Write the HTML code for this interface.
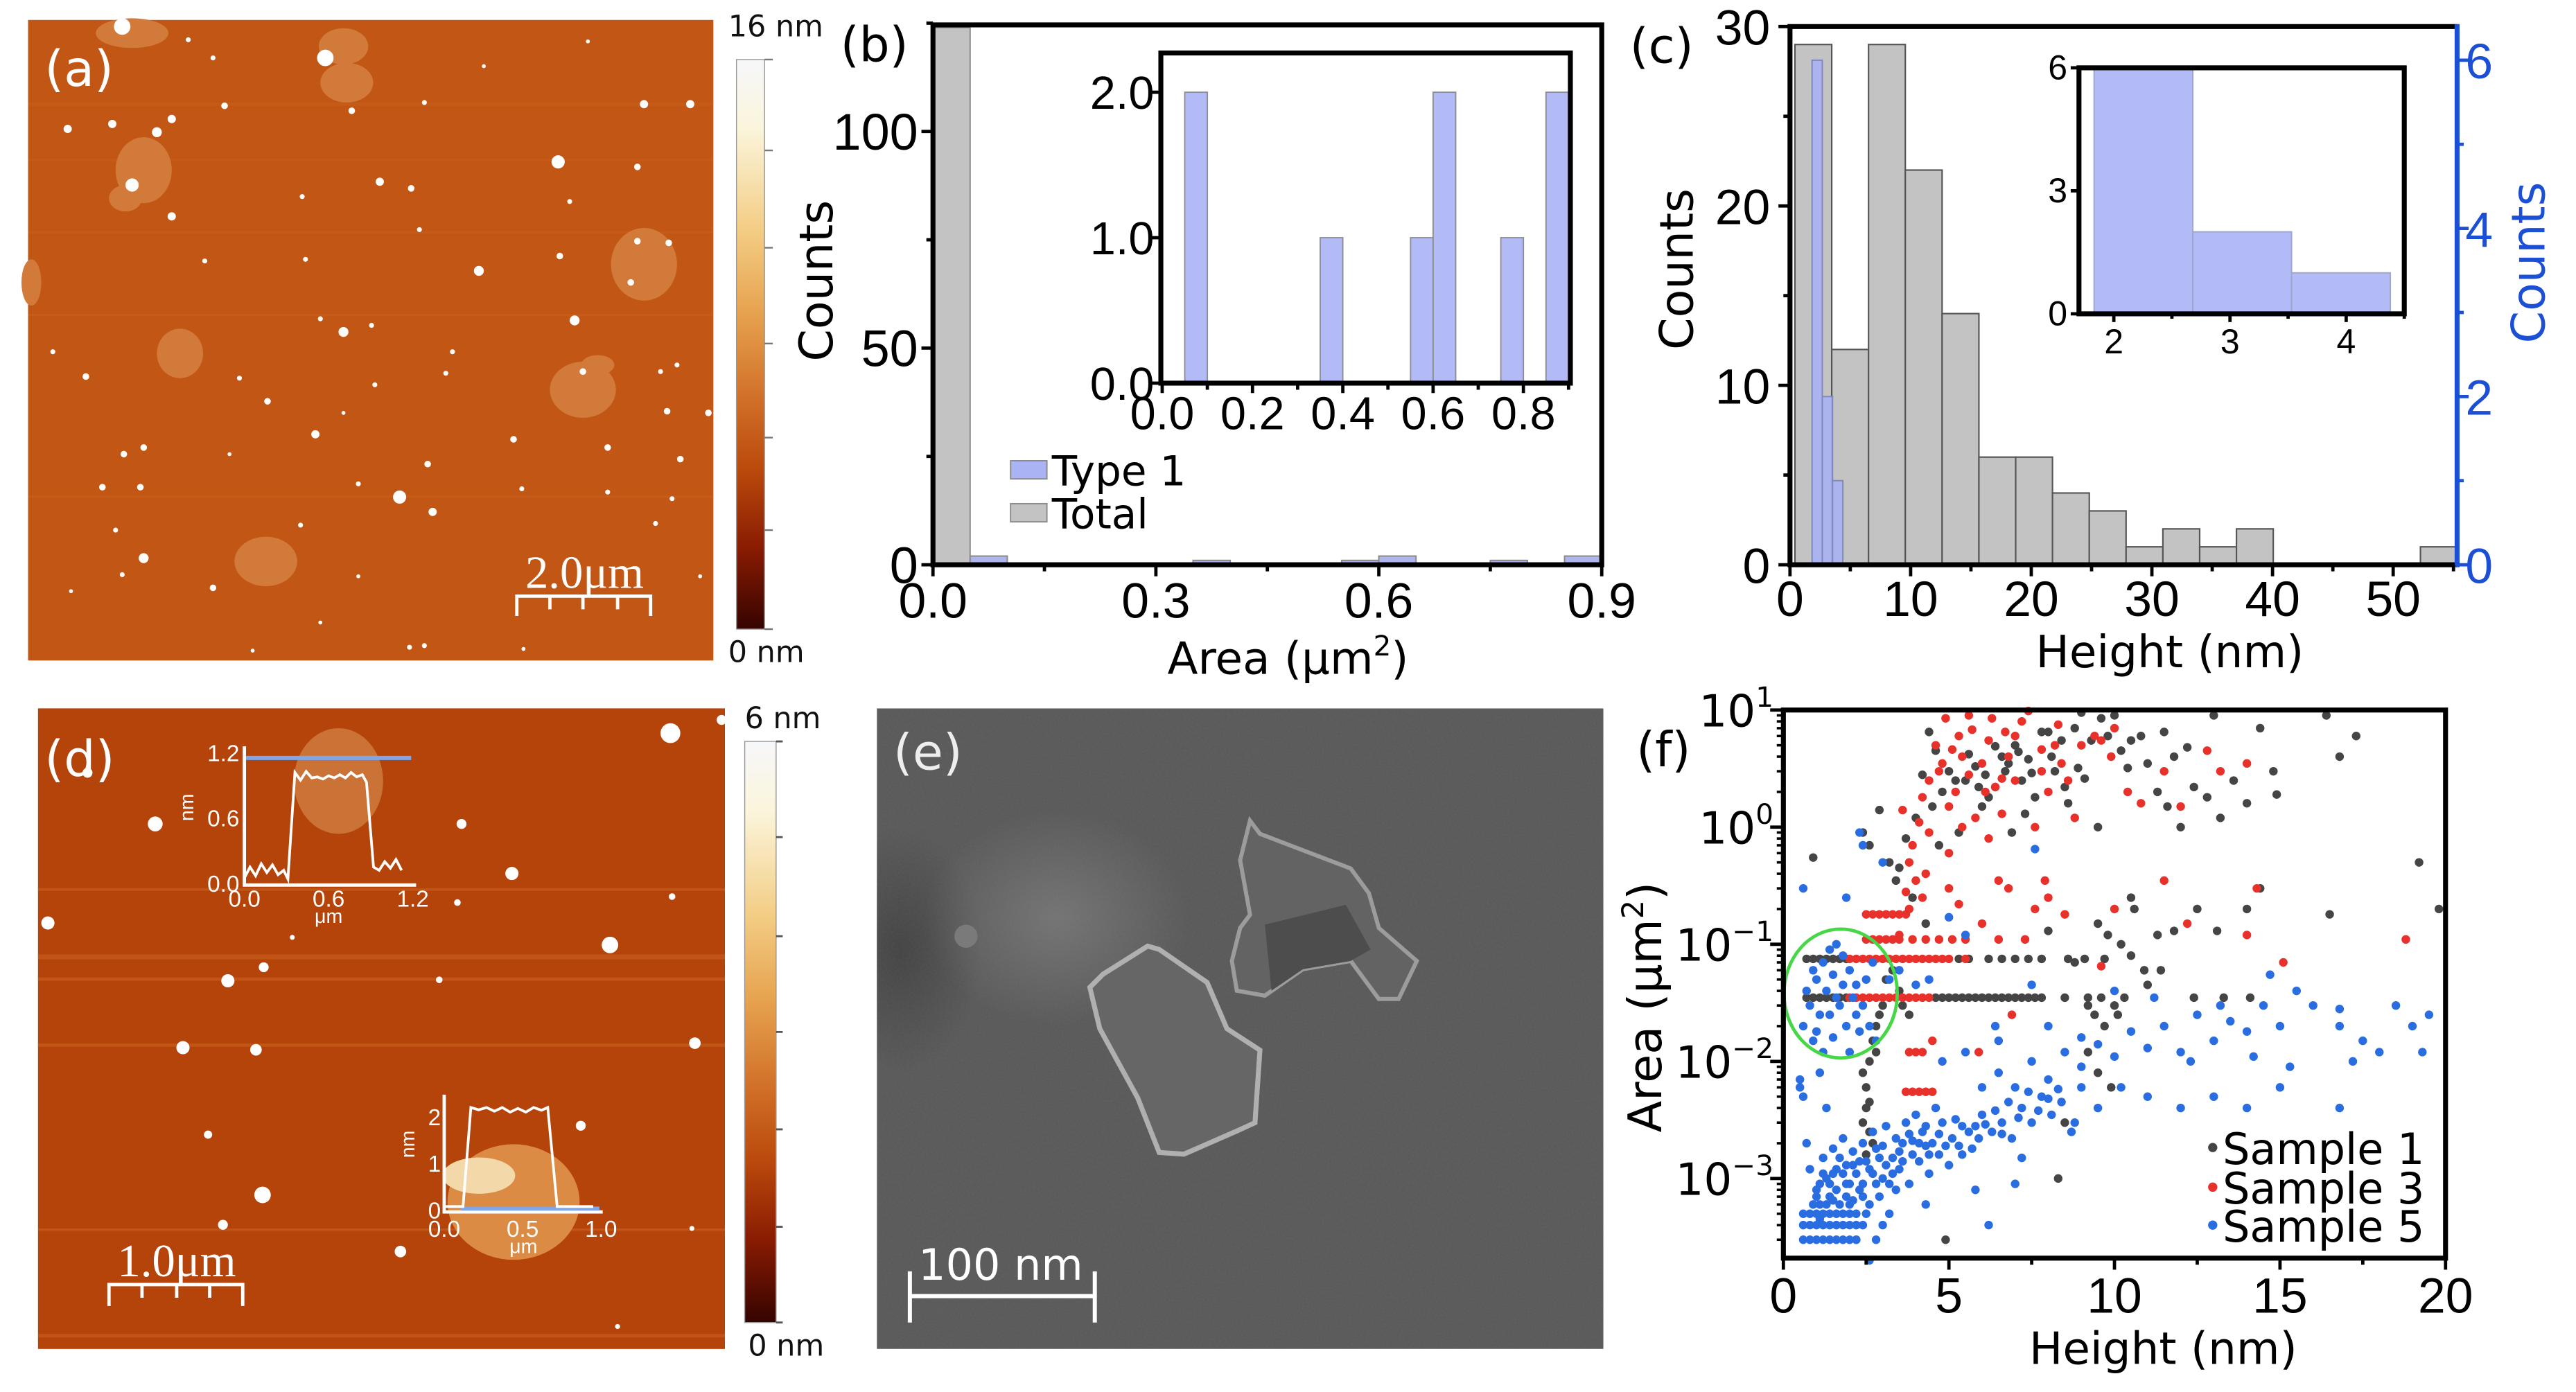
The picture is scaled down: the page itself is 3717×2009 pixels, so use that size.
<!DOCTYPE html>
<html><head><meta charset="utf-8"><title>Flake characterization figure</title>
<style>
html,body{margin:0;padding:0;background:#fff;}
svg{display:block;}
text{font-family:"Liberation Sans","DejaVu Sans",sans-serif;}
.dj{font-family:"DejaVu Sans","Liberation Sans",sans-serif;}
</style></head>
<body>
<svg id="fig" xmlns="http://www.w3.org/2000/svg" width="3717" height="2009" viewBox="0 0 1560 843">
<defs>
<linearGradient id="cbar" x1="0" y1="0" x2="0" y2="1">
<stop offset="0" stop-color="#f6f7fa"/><stop offset="0.12" stop-color="#fbf5dc"/><stop offset="0.3" stop-color="#f3cd84"/><stop offset="0.45" stop-color="#e6a14d"/><stop offset="0.6" stop-color="#d06e27"/><stop offset="0.72" stop-color="#ba4a0c"/><stop offset="0.86" stop-color="#881b02"/><stop offset="1" stop-color="#350400"/>
</linearGradient>
<radialGradient id="glow" cx="0.5" cy="0.5" r="0.5"><stop offset="0" stop-color="#858585" stop-opacity="0.6"/><stop offset="1" stop-color="#858585" stop-opacity="0"/></radialGradient>
<radialGradient id="dark" cx="0.5" cy="0.5" r="0.5"><stop offset="0" stop-color="#303030" stop-opacity="0.55"/><stop offset="1" stop-color="#303030" stop-opacity="0"/></radialGradient>
<filter id="noise" x="0" y="0" width="100%" height="100%"><feTurbulence type="fractalNoise" baseFrequency="0.9" numOctaves="1" seed="3"/><feColorMatrix type="matrix" values="0 0 0 0 0.4 0 0 0 0 0.4 0 0 0 0 0.4 0 0 0 0.1 0"/></filter>
<clipPath id="clipE"><rect x="531" y="429" width="440" height="388"/></clipPath>
</defs>

<!-- Panel a -->
<g>
<rect x="17" y="12" width="415" height="388" fill="#c15615"/>
<g fill="#d0661f" opacity="0.35">
<rect x="17" y="62" width="415" height="2"/><rect x="17" y="96" width="415" height="1.5"/><rect x="17" y="140" width="415" height="1.2"/><rect x="17" y="190" width="415" height="1.5"/><rect x="17" y="300" width="415" height="1.5"/>
</g>
<g id="flakesA" fill="#d27a3a"></g>
<g id="specksA" fill="#ffffff"></g>
<text class="dj" x="27" y="52" font-size="30" fill="#fff">(a)</text>
<text x="354" y="356" font-size="28" fill="#fff" text-anchor="middle" style="font-family:'Liberation Serif',serif">2.0μm</text>
<path d="M313 373V361H394V373M333 361V369M353 361V369M374 361V369" stroke="#fff" stroke-width="2" fill="none"/>
<rect x="446" y="36" width="17" height="345" fill="url(#cbar)" stroke="#999" stroke-width="0.6"/>
<path d="M463 91h5M463 150h5M463 208h5M463 265h5M463 321h5M463 36h5M463 381h5" stroke="#777" stroke-width="1"/>
<text class="dj" x="441" y="22" font-size="18" fill="#111">16 nm</text>
<text class="dj" x="441" y="401" font-size="18" fill="#111">0 nm</text>
</g>

<!-- Panel d -->
<g>
<rect x="23" y="429" width="416" height="388" fill="#b5440b"/>
<g fill="#cf6a22" opacity="0.45">
<rect x="23" y="578" width="416" height="3"/><rect x="23" y="592" width="416" height="2"/><rect x="23" y="632" width="416" height="2"/><rect x="23" y="538" width="416" height="1.5"/><rect x="23" y="744" width="416" height="1.5"/><rect x="23" y="808" width="416" height="2"/>
</g>
<g id="flakesD"></g>
<g id="specksD" fill="#ffffff"></g>
<g id="insetD"></g>
<text class="dj" x="27" y="470" font-size="30" fill="#fff">(d)</text>
<text x="107" y="773" font-size="28" fill="#fff" text-anchor="middle" style="font-family:'Liberation Serif',serif">1.0μm</text>
<path d="M66 791V778H147V791M86 778V786M107 778V786M127 778V786" stroke="#fff" stroke-width="2" fill="none"/>
<rect x="451" y="449" width="19" height="352" fill="url(#cbar)" stroke="#999" stroke-width="0.6"/>
<path d="M470 449h4M470 507h4M470 567h4M470 625h4M470 684h4M470 743h4M470 801h4" stroke="#555" stroke-width="1.2"/>
<text class="dj" x="451" y="441" font-size="18" fill="#111">6 nm</text>
<text class="dj" x="453" y="821" font-size="18" fill="#111">0 nm</text>
</g>

<!-- Panel e -->
<g clip-path="url(#clipE)">
<rect x="531" y="429" width="440" height="388" fill="#585858"/>
<ellipse cx="545" cy="575" rx="50" ry="75" fill="url(#dark)"/>
<ellipse cx="640" cy="556" rx="80" ry="65" fill="url(#glow)"/>
<rect x="531" y="429" width="440" height="388" filter="url(#noise)"/>
<polygon points="757,497 763,505 818,526 829,541 835,562 858,582 847,605 835,605 818,582 789,587 766,603 749,600 746,582 751,562 757,554 751,521" fill="#636363" stroke="#9c9c9c" stroke-width="2.5"/>
<polygon points="766,560 815,548 830,575 818,582 789,587 770,600" fill="#4d4d4d"/>
<polygon points="695,573 702,575 731,595 743,623 763,636 760,680 749,685 717,699 702,698 689,665 666,623 660,598 668,590" fill="#666666" stroke="#b0b0b0" stroke-width="3"/>
<circle cx="585" cy="567" r="7" fill="#7a7a7a"/>
<text class="dj" x="541" y="466" font-size="30" fill="#eee">(e)</text>
<text class="dj" x="606" y="775" font-size="26" fill="#fff" text-anchor="middle">100 nm</text>
<path d="M551 770V801M551 785H663M663 770V801" stroke="#fff" stroke-width="2.5" fill="none"/>
</g>

<g id="panelB"></g>
<g id="panelC"></g>
<g id="panelF"></g>
</svg>

<script>
const NS = "http://www.w3.org/2000/svg";
function mk(parent, tag, attrs, text) {
  const el = document.createElementNS(NS, tag);
  for (const k in attrs) el.setAttribute(k, attrs[k]);
  if (text !== undefined) el.textContent = text;
  parent.appendChild(el);
  return el;
}
function lin(d0, d1, r0, r1) { return v => r0 + (v - d0) / (d1 - d0) * (r1 - r0); }
function lg(d0, d1, r0, r1) { return v => r0 + (Math.log10(v) - d0) / (d1 - d0) * (r1 - r0); }

// ---------- Panel (b) data ----------
const bBinStart = [0, 0.05, 0.35, 0.55, 0.6, 0.75, 0.85];
const bTotal = [124, 2, 1, 1, 2, 1, 2];
const bType1 = [0, 2, 1, 1, 2, 1, 2];
const bBinWidth = 0.05;
const bInsetStart = [0.05, 0.35, 0.55, 0.6, 0.75, 0.85];
const bInsetType1 = [2, 1, 1, 2, 1, 2];
const bXTicks = [0, 0.3, 0.6, 0.9];
const bXLabels = ["0.0", "0.3", "0.6", "0.9"];
const bYTicks = [0, 50, 100];
const bInsetXTicks = [0, 0.2, 0.4, 0.6, 0.8];
const bInsetXLabels = ["0.0", "0.2", "0.4", "0.6", "0.8"];
const bInsetYTicks = [0, 1, 2];
const bInsetYLabels = ["0.0", "1.0", "2.0"];

// ---------- Panel (c) data ----------
const cBinStart = [0.41, 3.46, 6.51, 9.56, 12.61, 15.66, 18.71, 21.76, 24.81, 27.86, 30.91, 33.96, 37.01, 52.26];
const cTotal = [29, 12, 29, 22, 14, 6, 6, 4, 3, 1, 2, 1, 2, 1];
const cBinWidth = 3.05;
const cType1Start = [1.83, 2.68, 3.53];
const cType1 = [6, 2, 1];
const cType1Width = 0.85;
const cXTicks = [0, 10, 20, 30, 40, 50];
const cYTicks = [0, 10, 20, 30];
const cY2Ticks = [0, 2, 4, 6];
const cInsetXTicks = [2, 3, 4];
const cInsetYTicks = [0, 3, 6];

// ---------- Panel (f) data: [height nm, area um^2] ----------
const fS1 = [[0.7,0.075],[0.9,0.075],[1.1,0.075],[1.3,0.075],[1.5,0.075],[1.7,0.075],[1.9,0.075],
[0.7,0.035],[0.9,0.035],[1.1,0.035],[1.3,0.035],[1.5,0.035],[1.7,0.035],[1.9,0.035],
[4.6,0.035],[4.8,0.035],[5.0,0.035],[5.2,0.035],[5.4,0.035],[5.6,0.035],[5.8,0.035],[6.0,0.035],[6.2,0.035],[6.4,0.035],[6.6,0.035],[6.8,0.035],[7.0,0.035],[7.2,0.035],[7.4,0.035],[7.6,0.035],[7.8,0.035],
[8.5,0.035],[9.2,0.035],[9.6,0.035],[10.3,0.035],[12.4,0.035],[13.3,0.035],[14.1,0.035],
[5.3,0.075],[5.6,0.075],[6.2,0.075],[6.6,0.075],[7.0,0.075],[7.4,0.075],[7.8,0.075],[8.6,0.075],[9.1,0.075],[9.7,0.075],
[2.4,0.008],[2.5,0.006],[2.5,0.004],[2.4,0.003],[2.6,0.0045],[2.6,0.01],[2.7,0.015],[2.8,0.02],[2.9,0.025],[3.0,0.03],[2.6,0.0025],[2.5,0.0016],[3.1,0.05],[3.3,0.06],[3.5,0.04],[3.6,0.03],[3.8,0.025],[2.7,0.002],[2.8,0.012],
[0.9,0.55],[2.4,0.9],[2.6,0.7],[2.9,1.4],[3.2,0.5],[3.4,0.35],[3.5,0.45],[3.7,0.8],[4.0,1.2],[4.2,2.8],[4.4,6.5],[4.6,4.5],[4.8,2.0],[5.0,3.0],[5.2,2.5],[5.5,2.5],[5.8,3.3],[6.0,1.5],[6.2,1.8],[6.4,2.2],[6.6,4.0],[6.8,3.5],[7.0,5.0],[7.2,2.5],[7.4,3.8],[7.6,1.8],[7.8,6.5],[8.0,6.5],[8.2,3.0],[8.5,2.2],[8.8,7.0],[9.0,9.5],[9.3,5.5],[9.6,8.5],[9.8,6.0],[10.2,4.5],[10.5,5.5],[10.8,6.0],[11.0,3.5],[11.3,2.0],[11.6,1.5],[12.0,1.0],[12.4,2.2],[12.8,1.8],[13.2,1.2],[13.6,2.5],[14.0,1.6],[14.4,7.0],[14.8,3.0],[14.9,1.9],[16.4,9.0],[16.8,4.0],[17.3,6.0],[13.0,9.0],[11.8,4.0],[10.0,9.0],[9.5,1.0],[3.9,0.25],[4.3,0.15],[4.7,0.7],[5.3,0.9],
[5.6,4.2],[6.1,2.8],[6.7,3.0],[7.1,4.4],[7.5,2.9],[8.1,4.0],[8.4,5.5],[8.9,3.2],[6.4,4.9],[5.9,2.2],[7.3,1.3],[8.6,1.6],[10.4,3.2],[11.5,6.5],[12.2,4.8],[9.1,2.6],[6.9,0.9],[4.5,1.5],
[9.5,0.15],[9.8,0.12],[10.2,0.1],[10.6,0.2],[10.5,0.08],[10.9,0.06],[11.3,0.12],[11.8,0.13],[12.5,0.2],[13.1,0.13],[14.0,0.2],[16.5,0.18],[19.8,0.2],[19.2,0.5],[9.2,0.03],[9.4,0.025],[9.7,0.02],[10.0,0.03],[10.1,0.025],[9.2,0.012],[9.5,0.008],[9.9,0.006],[11.0,0.045],[11.4,0.06],[8.3,0.001],[8.5,0.003],[4.9,0.0003],[14.4,0.3],[10.5,0.25],[8.8,0.07],[8.0,0.13]];
const fS3 = [[2.0,0.075],[2.2,0.075],[2.4,0.075],[2.6,0.075],[2.8,0.075],[3.0,0.075],[3.2,0.075],[3.4,0.075],[3.6,0.075],[3.8,0.075],[4.0,0.075],[4.2,0.075],[4.4,0.075],[4.6,0.075],[4.8,0.075],[5.0,0.075],[5.5,0.075],
[2.0,0.035],[2.2,0.035],[2.4,0.035],[2.6,0.035],[2.8,0.035],[3.0,0.035],[3.2,0.035],[3.4,0.035],[3.6,0.035],[3.8,0.035],[4.0,0.035],[4.2,0.035],[4.4,0.035],
[2.5,0.18],[2.7,0.18],[2.9,0.18],[3.1,0.18],[3.3,0.18],[3.5,0.18],[3.7,0.18],
[2.5,0.11],[2.7,0.11],[2.9,0.11],[3.1,0.11],[3.3,0.11],[3.5,0.11],[3.9,0.11],[4.3,0.11],[4.7,0.11],[5.1,0.11],[5.5,0.11],[6.5,0.11],[7.3,0.11],
[3.7,0.0055],[3.9,0.0055],[4.1,0.0055],[4.3,0.0055],[4.5,0.0055],[3.8,0.012],[4.0,0.012],[4.2,0.012],[5.9,0.012],
[3.7,0.28],[3.8,0.5],[4.0,0.35],[3.9,0.7],[4.1,1.1],[4.3,0.4],[4.4,2.5],[4.6,5.0],[4.8,3.5],[5.0,1.5],[5.2,2.0],[5.4,4.0],[5.6,2.8],[5.8,1.2],[6.0,3.5],[6.2,5.5],[6.4,2.2],[6.6,1.3],[6.8,4.0],[7.0,2.5],[7.2,8.0],[7.4,9.8],[7.6,1.0],[7.8,3.0],[8.0,2.0],[8.2,5.0],[8.4,3.5],[8.6,2.5],[8.8,1.2],[9.0,5.0],[9.4,6.0],[9.6,5.5],[9.9,4.0],[10.0,7.0],[10.4,2.0],[10.8,1.6],[11.5,3.0],[12.0,1.5],[12.8,4.5],[13.2,3.0],[14.0,3.5],[4.9,8.5],[5.6,9.0],[6.3,8.5],[6.2,0.8],[5.0,0.6],[6.5,0.35],[8.0,0.25],[8.5,0.18],[10.0,0.2],[11.5,0.35],[12.2,0.15],[14.0,0.12],[14.3,0.3],[15.1,0.07],[18.8,0.11],[9.6,0.065],[6.9,0.025],[4.5,0.015],[3.5,0.12],[6.0,0.15],[3.6,1.4],[5.3,6.0],[6.7,6.5],
[4.2,1.8],[4.7,3.0],[5.1,4.6],[5.7,6.8],[6.1,2.0],[6.6,2.6],[7.0,6.0],[7.8,4.6],[8.3,7.5],[4.4,0.9],[5.4,1.0],[3.8,0.2],[4.2,0.25],[5.0,0.3],[5.3,0.22],[6.8,0.3],[7.6,0.2],[7.9,0.35]];
const fS5 = [[0.6,0.0003],[0.8,0.0003],[1.0,0.0003],[1.2,0.0003],[1.4,0.0003],[1.6,0.0003],[1.8,0.0003],[2.0,0.0003],[2.2,0.0003],
[0.6,0.0004],[0.8,0.0004],[1.0,0.0004],[1.2,0.0004],[1.4,0.0004],[1.6,0.0004],[1.8,0.0004],[2.0,0.0004],[2.2,0.0004],[2.4,0.0004],
[0.6,0.0005],[0.8,0.0005],[1.0,0.0005],[1.2,0.0005],[1.4,0.0005],[1.6,0.0005],[1.8,0.0005],[2.0,0.0005],[2.2,0.0005],
[1.0,0.0008],[1.3,0.001],[1.6,0.0012],[1.9,0.0009],[2.2,0.0011],[2.5,0.0014],[2.8,0.0018],[3.0,0.001],[3.3,0.0015],[3.6,0.002],[3.9,0.0016],[4.2,0.0025],[4.5,0.002],[4.8,0.003],[5.1,0.0022],[5.4,0.0028],[5.7,0.0018],[6.0,0.0035],[6.3,0.0025],[6.6,0.003],[6.9,0.0022],[7.2,0.004],[7.5,0.003],[7.8,0.005],[8.1,0.0035],[8.4,0.0045],[8.7,0.0025],[9.0,0.006],
[0.8,0.0012],[1.1,0.0006],[1.4,0.0007],[1.7,0.0015],[2.0,0.0006],[2.3,0.0008],[2.6,0.0006],[2.9,0.0007],[3.2,0.0009],[3.5,0.0012],[3.8,0.0009],[4.1,0.0014],[4.4,0.0011],[4.7,0.0016],[5.0,0.0013],[5.3,0.0019],[5.6,0.0025],
[1.2,0.0015],[1.5,0.0018],[1.8,0.0022],[2.1,0.0017],[2.4,0.002],[2.7,0.0025],[3.1,0.0028],[3.4,0.0022],[3.7,0.003],[4.0,0.0035],[4.3,0.0028],[4.6,0.004],
[2.2,0.0003],[2.6,0.0002],[2.8,0.0003],[3.0,0.0004],[3.2,0.0005],[2.5,0.0005],[0.7,0.002],[0.6,0.005],[0.5,0.007],[1.3,0.004],[6.2,0.0004],[4.3,0.0006],
[1.1,0.0009],[1.5,0.0011],[1.9,0.0013],[2.3,0.0014],[2.7,0.0011],[3.1,0.0013],[3.5,0.0017],[3.9,0.0021],[4.3,0.0019],[4.7,0.0024],[5.2,0.0032],[5.8,0.0028],[6.4,0.0038],[6.8,0.0045],[7.4,0.0055],[8.0,0.0048],
[1.0,0.0007],[1.2,0.0011],[1.4,0.0009],[1.6,0.0008],[1.8,0.0011],[2.0,0.0009],[2.1,0.0013],[2.4,0.0009],[2.6,0.0012],[2.9,0.0015],[3.0,0.0019],[3.3,0.0011],[3.6,0.0014],[3.8,0.0024],[4.1,0.002],[4.4,0.0016],[4.9,0.0019],[5.4,0.0016],[5.9,0.0022],[6.1,0.0029],[6.6,0.0024],[7.1,0.0033],[7.7,0.0038],[8.3,0.0058],
[0.9,0.0006],[1.1,0.00045],[1.3,0.0006],[1.5,0.00065],[1.7,0.0006],[1.9,0.0007],[2.1,0.00065],[2.4,0.0007],[2.8,0.0009],[3.4,0.0008],
[6.0,0.006],[6.5,0.008],[7.0,0.006],[7.5,0.01],[8.0,0.007],[8.5,0.012],[9.0,0.009],[9.5,0.014],[10.0,0.011],[10.5,0.018],[11.0,0.013],[11.5,0.02],[12.0,0.012],[12.5,0.025],[13.0,0.015],[13.5,0.022],[14.0,0.018],[14.5,0.03],[15.0,0.02],[15.5,0.04],[16.0,0.03],[16.8,0.02],[17.5,0.015],[18.0,0.012],[18.5,0.03],[19.0,0.02],[19.5,0.025],[19.3,0.012],
[10.2,0.006],[11.0,0.005],[12.0,0.004],[13.0,0.005],[14.0,0.004],[15.0,0.006],[16.8,0.004],[9.5,0.004],[8.8,0.003],[7.2,0.0015],[7.0,0.0009],[5.8,0.0008],[11.2,0.035],[10.0,0.04],[7.5,0.045],[14.7,0.055],[16.8,0.028],[13.2,0.03],[12.3,0.01],[14.2,0.011],[15.3,0.009],[17.2,0.01],[9.0,0.016],[8.0,0.02],[6.5,0.015],[5.5,0.012],[4.8,0.01],[6.4,0.02],
[0.6,0.02],[0.8,0.03],[1.0,0.05],[1.2,0.07],[1.4,0.09],[1.6,0.1],[1.8,0.08],[2.0,0.06],[2.2,0.045],[2.4,0.03],[2.6,0.02],[2.8,0.015],[1.1,0.025],[1.3,0.04],[1.5,0.055],[1.7,0.03],[1.9,0.02],[2.1,0.035],[2.3,0.018],[0.9,0.015],[1.5,0.016],[2.5,0.05],[2.7,0.07],[2.0,0.012],[1.2,0.012],[0.9,0.06],[1.8,0.045],[1.4,0.025],[1.6,0.035],[1.0,0.018],[2.2,0.025],[0.7,0.04],
[3.2,0.05],[3.5,0.06],[4.0,0.045],[4.4,0.05],[5.5,0.12],[2.3,0.9],[2.4,0.7],[3.0,0.5],[1.9,0.25],[0.6,0.3],[7.6,0.65],[5.0,0.17],[0.5,0.006],[1.1,0.008]];
const fXTicks = [0, 5, 10, 15, 20];
const fYExps = [-3, -2, -1, 0, 1];

// ---------- generic helpers ----------
function rect(g, x0, x1, y0, y1, fill, stroke, sw, op) {
  return mk(g, "rect", {x: Math.min(x0, x1), y: Math.min(y0, y1), width: Math.abs(x1 - x0), height: Math.abs(y1 - y0), fill: fill, stroke: stroke, "stroke-width": sw, "fill-opacity": op});
}
function line(g, x1, y1, x2, y2, stroke, sw) {
  return mk(g, "line", {x1: x1, y1: y1, x2: x2, y2: y2, stroke: stroke, "stroke-width": sw});
}

// ================= Panel B =================
(function () {
  const g = document.getElementById("panelB");
  const L = 565, R = 970, T = 15, B = 342;
  const sx = lin(0, 0.9, L, R), sy = lin(0, 124.6, B, T);
  for (let i = 0; i < bBinStart.length; i++) {
    const r = rect(g, sx(bBinStart[i]), sx(bBinStart[i] + bBinWidth), sy(0), sy(bTotal[i]), "#c3c3c3", "#8a8a8a", 0.8, 1);
    
    
  }
  for (let i = 0; i < bBinStart.length; i++) {
    if (bType1[i] <= 0) continue;
    const r = rect(g, sx(bBinStart[i]), sx(bBinStart[i] + bBinWidth), sy(0), sy(bType1[i]), "#aab3f4", "#8a8a8a", 0.8, 0.85);
    
    
  }
  const fr = rect(g, L, R, T, B, "none", "#000", 3, 1);
  
  
  for (let i = 0; i < bXTicks.length; i++) {
    const t = line(g, sx(bXTicks[i]), B, sx(bXTicks[i]), B + 7, "#000", 2);
    
    
    const tl = mk(g, "text", {x: sx(bXTicks[i]), y: 374, "font-size": 30, "text-anchor": "middle"}, bXLabels[i]);
    
    
    if (i < bXTicks.length - 1) {
      const m = line(g, sx(bXTicks[i] + 0.15), B, sx(bXTicks[i] + 0.15), B + 4, "#000", 2);
      
      
    }
  }
  for (let i = 0; i < bYTicks.length; i++) {
    const t = line(g, L - 7, sy(bYTicks[i]), L, sy(bYTicks[i]), "#000", 2);
    
    
    const tl = mk(g, "text", {x: L - 9, y: sy(bYTicks[i]) + 11, "font-size": 31, "text-anchor": "end"}, String(bYTicks[i]));
    
    
    const m = line(g, L - 4, sy(bYTicks[i] + 25), L, sy(bYTicks[i] + 25), "#000", 2);
    
    
  }
  const yt = mk(g, "text", {x: 0, y: 0, "font-size": 28, "text-anchor": "middle", class: "dj", transform: "translate(504,170) rotate(-90)"}, "Counts");
  
  
  const xt = mk(g, "text", {x: 780, y: 408, "font-size": 27, "text-anchor": "middle", class: "dj"});
  
  
  xt.appendChild(document.createTextNode("Area (μm"));
  mk(xt, "tspan", {dy: -11, "font-size": 17}, "2");
  mk(xt, "tspan", {dy: 11}, ")");
  const pl = mk(g, "text", {x: 509, y: 37, "font-size": 29, class: "dj"}, "(b)");
  
  
  const l1 = rect(g, 612, 634, 279, 290, "#aab3f4", "#8a8a8a", 0.8, 1);
  
  
  const lt1 = mk(g, "text", {x: 637, y: 294, "font-size": 25, class: "dj"}, "Type 1");
  
  
  const l2 = rect(g, 612, 634, 305, 316, "#c3c3c3", "#8a8a8a", 0.8, 1);
  
  
  const lt2 = mk(g, "text", {x: 637, y: 320, "font-size": 25, class: "dj"}, "Total");
  
  
  const iL = 703, iR = 951, iT = 32, iB = 232;
  const ix = lin(-0.003, 0.904, iL, iR), iy = lin(0, 2.27, iB, iT);
  const ibg = rect(g, iL, iR, iT, iB, "#fff", "none", 0, 1);
  
  
  for (let i = 0; i < bInsetStart.length; i++) {
    const r = rect(g, ix(bInsetStart[i]), ix(bInsetStart[i] + bBinWidth), iy(0), iy(bInsetType1[i]), "#b3bbf6", "#8e8e8e", 0.8, 1);
    
    
  }
  const ifr = rect(g, iL, iR, iT, iB, "none", "#000", 3, 1);
  
  
  for (let i = 0; i < bInsetXTicks.length; i++) {
    const t = line(g, ix(bInsetXTicks[i]), iB, ix(bInsetXTicks[i]), iB + 6, "#000", 2);
    
    
    const m = line(g, ix(bInsetXTicks[i] + 0.1), iB, ix(bInsetXTicks[i] + 0.1), iB + 4, "#000", 2);
    
    
    const tl = mk(g, "text", {x: ix(bInsetXTicks[i]), y: 260, "font-size": 28, "text-anchor": "middle"}, bInsetXLabels[i]);
    
    
  }
  for (let i = 0; i < bInsetYTicks.length; i++) {
    const t = line(g, iL - 6, iy(bInsetYTicks[i]), iL, iy(bInsetYTicks[i]), "#000", 2);
    
    
    const tl = mk(g, "text", {x: iL - 4, y: iy(bInsetYTicks[i]) + 10, "font-size": 28, "text-anchor": "end"}, bInsetYLabels[i]);
    
    
  }
})();

// ================= Panel C =================
(function () {
  const g = document.getElementById("panelC");
  const L = 1084, R = 1488, T = 16, B = 342;
  const sx = lin(0, 55.3, L, R), sy = lin(0, 30, B, T), sy2 = lin(0, 6.4, B, T);
  for (let i = 0; i < cBinStart.length; i++) {
    const r = rect(g, sx(cBinStart[i]), sx(cBinStart[i] + cBinWidth), sy(0), sy(cTotal[i]), "#c3c3c3", "#555", 0.9, 1);
    
    
  }
  for (let i = 0; i < cType1Start.length; i++) {
    const r = rect(g, sx(cType1Start[i]), sx(cType1Start[i] + cType1Width), sy2(0), sy2(cType1[i]), "#aab3f4", "#7f86b8", 0.8, 0.9);
    
    
  }
  const ax = mk(g, "path", {d: `M${R} ${T}H${L}V${B}H${R}`, fill: "none", stroke: "#000", "stroke-width": 3});
  
  
  const ra = line(g, R, T - 1.5, R, B + 1.5, "#1a4fd6", 3);
  
  
  for (let i = 0; i < cXTicks.length; i++) {
    const t = line(g, sx(cXTicks[i]), B, sx(cXTicks[i]), B + 7, "#000", 2);
    
    
    const m = line(g, sx(cXTicks[i] + 5), B, sx(cXTicks[i] + 5), B + 4, "#000", 2);
    
    
    const tl = mk(g, "text", {x: sx(cXTicks[i]), y: 373, "font-size": 30, "text-anchor": "middle"}, String(cXTicks[i]));
    
    
  }
  for (let i = 0; i < cYTicks.length; i++) {
    const t = line(g, L - 7, sy(cYTicks[i]), L, sy(cYTicks[i]), "#000", 2);
    
    
    if (cYTicks[i] < 30) {
      const m = line(g, L - 4, sy(cYTicks[i] + 5), L, sy(cYTicks[i] + 5), "#000", 2);
      
      
    }
    const tl = mk(g, "text", {x: L - 12, y: sy(cYTicks[i]) + 11, "font-size": 30, "text-anchor": "end"}, String(cYTicks[i]));
    
    
  }
  for (let i = 0; i < cY2Ticks.length; i++) {
    const t = line(g, R, sy2(cY2Ticks[i]), R + 7, sy2(cY2Ticks[i]), "#1a4fd6", 2);
    
    
    const m = line(g, R, sy2(cY2Ticks[i] + 1), R + 4, sy2(cY2Ticks[i] + 1), "#1a4fd6", 2);
    
    
    const tl = mk(g, "text", {x: R + 5, y: sy2(cY2Ticks[i]) + 11, "font-size": 30, fill: "#1a4fd6"}, String(cY2Ticks[i]));
    
    
  }
  const yt = mk(g, "text", {x: 0, y: 0, "font-size": 28, "text-anchor": "middle", class: "dj", transform: "translate(1025,163) rotate(-90)"}, "Counts");
  
  
  const yt2 = mk(g, "text", {x: 0, y: 0, "font-size": 28, "text-anchor": "middle", class: "dj", fill: "#1a4fd6", transform: "translate(1541,159) rotate(-90)"}, "Counts");
  
  
  const xt = mk(g, "text", {x: 1314, y: 404, "font-size": 27, "text-anchor": "middle", class: "dj"}, "Height (nm)");
  
  
  const pl = mk(g, "text", {x: 987, y: 38, "font-size": 29, class: "dj"}, "(c)");
  
  
  const iL = 1259, iR = 1456, iT = 41, iB = 190;
  const ix = lin(1.70, 4.50, iL, iR), iy = lin(0, 6, iB, iT);
  const ibg = rect(g, iL, iR, iT, iB, "#fff", "none", 0, 1);
  
  
  for (let i = 0; i < cType1Start.length; i++) {
    const r = rect(g, ix(cType1Start[i]), ix(cType1Start[i] + cType1Width), iy(0), iy(cType1[i]), "#b3bbf6", "#9ea5cf", 0.8, 1);
    
    
  }
  const ifr = rect(g, iL, iR, iT, iB, "none", "#000", 3, 1);
  
  
  for (let i = 0; i < cInsetXTicks.length; i++) {
    const t = line(g, ix(cInsetXTicks[i]), iB, ix(cInsetXTicks[i]), iB + 5, "#000", 2);
    
    
    const m = line(g, ix(cInsetXTicks[i] + 0.5), iB, ix(cInsetXTicks[i] + 0.5), iB + 3, "#000", 2);
    
    
    const tl = mk(g, "text", {x: ix(cInsetXTicks[i]), y: 214, "font-size": 21, "text-anchor": "middle"}, String(cInsetXTicks[i]));
    
    
  }
  for (let i = 0; i < cInsetYTicks.length; i++) {
    const t = line(g, iL - 5, iy(cInsetYTicks[i]), iL, iy(cInsetYTicks[i]), "#000", 2);
    
    
    const tl = mk(g, "text", {x: iL - 7, y: iy(cInsetYTicks[i]) + 7, "font-size": 21, "text-anchor": "end"}, String(cInsetYTicks[i]));
    
    
  }
})();

// ================= Panel F =================
(function () {
  const g = document.getElementById("panelF");
  const L = 1080, R = 1481, T = 430, B = 762;
  const sx = lin(0, 20, L, R), sy = lg(1, -3.68, T, B);
  const bg = rect(g, L, R, T, B, "#fff", "none", 0, 1);
  
  
  const series = [[fS1, "#454545", "sample-1"], [fS3, "#e8312b", "sample-3"], [fS5, "#2a6de0", "sample-5"]];
  for (const s of series) {
    const sg = mk(g, "g", {fill: s[1]});
    
    
    for (const p of s[0]) {
      const c = mk(sg, "circle", {cx: sx(p[0]), cy: sy(p[1]), r: 2.6});
      
      
    }
  }
  const el = mk(g, "ellipse", {cx: sx(1.73), cy: sy(0.038), rx: sx(1.73 + 1.71) - sx(1.73), ry: sy(0.038) - sy(0.038 * 3.55), fill: "none", stroke: "#46d646", "stroke-width": 2});
  
  
  const fr = rect(g, L, R, T, B, "none", "#000", 3, 1);
  
  
  for (let i = 0; i < fXTicks.length; i++) {
    const t = line(g, sx(fXTicks[i]), B, sx(fXTicks[i]), B + 7, "#000", 2);
    
    
    if (fXTicks[i] < 20) {
      const m = line(g, sx(fXTicks[i] + 2.5), B, sx(fXTicks[i] + 2.5), B + 4, "#000", 2);
      
      
    }
    const tl = mk(g, "text", {x: sx(fXTicks[i]), y: 795, "font-size": 30, "text-anchor": "middle"}, String(fXTicks[i]));
    
    
  }
  for (let i = 0; i < fYExps.length; i++) {
    const v = Math.pow(10, fYExps[i]);
    const t = line(g, L - 8, sy(v), L, sy(v), "#000", 2);
    
    
    const tl = mk(g, "text", {x: L - 6, y: sy(v) + 10, "font-size": 27, "text-anchor": "end", class: "dj"}, "10");
    
    
    mk(tl, "tspan", {dy: -12, "font-size": 17}, fYExps[i] < 0 ? "−" + Math.abs(fYExps[i]) : String(fYExps[i]));
  }
  for (let d = -4; d <= 0; d++) {
    for (let m = 2; m <= 9; m++) {
      const v = m * Math.pow(10, d);
      const y = sy(v);
      if (y < T || y > B) continue;
      const t = line(g, L - 4, y, L, y, "#000", 1.5);
      
      
    }
  }
  const yt = mk(g, "text", {x: 0, y: 0, "font-size": 28, "text-anchor": "middle", class: "dj", transform: "translate(1006,610) rotate(-90)"});
  
  
  yt.appendChild(document.createTextNode("Area (μm"));
  mk(yt, "tspan", {dy: -11, "font-size": 18}, "2");
  mk(yt, "tspan", {dy: 11}, ")");
  const xt = mk(g, "text", {x: 1310, y: 826, "font-size": 27, "text-anchor": "middle", class: "dj"}, "Height (nm)");
  
  
  const pl = mk(g, "text", {x: 991, y: 464, "font-size": 29, class: "dj"}, "(f)");
  
  
  const legendNames = ["Sample 1", "Sample 3", "Sample 5"];
  const legendY = [695, 719, 742];
  for (let i = 0; i < 3; i++) {
    const d = mk(g, "circle", {cx: 1340, cy: legendY[i], r: 2.8, fill: series[i][1]});
    
    
    const t = mk(g, "text", {x: 1346, y: legendY[i] + 10, "font-size": 26, class: "dj"}, legendNames[i]);
    
    
  }
})();

// ================= AFM decorations =================
const aFlakes = [[208,28,15,11],[210,50,16,12],[80,20,22,9],[87,103,17,20],[76,120,10,8],[390,160,20,22],[109,214,14,15],[353,236,20,17],[362,221,10,6],[161,340,19,15],[19,171,6,14]];
const aSpecks = [[197,35,5],[74,16,5],[41,78,2.5],[68,75,2.5],[95,80,3],[104,72,2.5],[80,112,4],[104,131,2.5],[136,64,2],[129,35,1.5],[114,24,1.5],[213,67,2],[257,62,1.5],[293,40,1.2],[356,25,1.2],[390,63,2.5],[418,63,2.5],[338,98,4],[386,101,2],[230,110,2.5],[249,114,2],[183,119,1.5],[345,122,1.5],[254,139,1.5],[386,146,2],[405,147,2],[339,155,2],[290,164,3],[185,157,1.5],[124,158,1.5],[382,171,2],[194,193,1.5],[208,201,3],[225,197,1.5],[348,194,3],[32,213,1.5],[274,213,1.5],[410,221,1.5],[400,225,1.5],[52,228,2],[145,229,1.5],[270,226,1.5],[227,233,1.5],[353,225,2],[162,243,2],[208,250,1.2],[404,249,2],[429,250,2],[191,263,2.5],[311,266,2],[368,271,2],[75,275,2],[87,271,2],[139,275,1.2],[259,281,2],[412,278,2],[62,295,2],[85,295,2],[217,293,1.5],[242,301,4],[316,296,1.5],[368,298,1.5],[407,302,1.5],[262,310,2.5],[70,321,1.5],[182,318,1.5],[397,317,1.5],[87,338,3],[74,348,1.5],[217,349,1.2],[424,349,1.2],[129,356,2],[43,358,1.2],[194,377,1.2],[248,392,1.5],[257,391,1.5],[317,393,1.2],[153,394,1.2]];
const dSpecks = [[406,444,6],[437,436,3],[53,468,3],[94,499,4.5],[279.5,499,3],[310,529,4],[277,546.6,2],[407,543,2],[29,559,4],[177,567.7,1.5],[369.4,572.3,5],[159.7,585.8,3],[138,594,4],[266,593.4,2],[110.8,634.5,4],[155,635.8,3.5],[420.8,631.8,3.5],[126,687.2,2.5],[351.7,681.8,3],[159,723.7,5],[135,741.8,3],[242.5,758,3.5],[419,744,1.5],[374,803.4,1.5]];
const dProfile1 = [[0,0.05],[0.04,0.15],[0.08,0.07],[0.12,0.18],[0.16,0.1],[0.2,0.17],[0.24,0.08],[0.28,0.12],[0.31,0.04],[0.36,1.02],[0.4,0.95],[0.44,1.03],[0.48,0.97],[0.52,0.98],[0.56,0.96],[0.6,0.99],[0.64,0.97],[0.68,1.0],[0.72,0.97],[0.76,1.02],[0.8,0.98],[0.84,1.0],[0.87,0.93],[0.92,0.15],[0.96,0.12],[1.0,0.2],[1.04,0.14],[1.08,0.22],[1.12,0.12]];
const dProfile2 = [[0,0.08],[0.06,0.08],[0.12,0.08],[0.17,2.2],[0.22,2.15],[0.27,2.2],[0.32,2.12],[0.37,2.2],[0.42,2.1],[0.47,2.18],[0.52,2.1],[0.57,2.2],[0.62,2.14],[0.66,2.2],[0.72,0.08],[0.85,0.08],[0.95,0.08]];

(function () {
  const fa = document.getElementById("flakesA");
  for (const f of aFlakes) {
    const e = mk(fa, "ellipse", {cx: f[0], cy: f[1], rx: f[2], ry: f[3]});
    
    
  }
  const sa = document.getElementById("specksA");
  for (const s of aSpecks) {
    const c = mk(sa, "circle", {cx: s[0], cy: s[1], r: s[2]});
    
    
  }
  const fd = document.getElementById("flakesD");
  const f1 = mk(fd, "ellipse", {cx: 205, cy: 473, rx: 27, ry: 32, fill: "#cb7336"});
  
  
  const f2 = mk(fd, "ellipse", {cx: 311, cy: 728, rx: 40, ry: 35, fill: "#dc8b45"});
  
  
  const f3 = mk(fd, "ellipse", {cx: 290, cy: 712, rx: 22, ry: 11, fill: "#f3d9aa"});
  
  
  const sd = document.getElementById("specksD");
  for (const s of dSpecks) {
    const c = mk(sd, "circle", {cx: s[0], cy: s[1], r: s[2]});
    
    
  }
  const ins = document.getElementById("insetD");
  const p1x = lin(0, 1.2, 148, 250), p1y = lin(0, 1.2, 535, 456);
  const a1 = mk(ins, "path", {d: "M148 452V536H252", fill: "none", stroke: "#fff", "stroke-width": 2});
  
  
  const bl1 = line(ins, 149, 459, 249, 459, "#7fa6e8", 2.5);
  
  
  const pl1 = mk(ins, "polyline", {points: dProfile1.map(p => p1x(p[0]) + "," + p1y(p[1])).join(" "), fill: "none", stroke: "#fff", "stroke-width": 1.6});
  
  
  const p1yt = [["1.2", 1.2], ["0.6", 0.6], ["0.0", 0]];
  for (const t of p1yt) {
    const tx = mk(ins, "text", {x: 145, y: p1y(t[1]) + 5, "font-size": 14, fill: "#fff", "text-anchor": "end"}, t[0]);
    
    
  }
  const p1xt = [["0.0", 0], ["0.6", 0.6], ["1.2", 1.2]];
  for (const t of p1xt) {
    const tx = mk(ins, "text", {x: p1x(t[1]), y: 549, "font-size": 14, fill: "#fff", "text-anchor": "middle"}, t[0]);
    
    
  }
  const u1 = mk(ins, "text", {x: 199, y: 559, "font-size": 12, fill: "#fff", "text-anchor": "middle"}, "μm");
  
  
  const n1 = mk(ins, "text", {x: 0, y: 0, "font-size": 12, fill: "#fff", "text-anchor": "middle", transform: "translate(117,489) rotate(-90)"}, "nm");
  
  
  const p2x = lin(0, 1.0, 269, 364), p2y = lin(0, 2, 733, 676.4);
  const a2 = mk(ins, "path", {d: "M269 663V734H365", fill: "none", stroke: "#fff", "stroke-width": 2});
  
  
  const bl2 = line(ins, 279, 732, 363, 732, "#7fa6e8", 2.5);
  
  
  const pl2 = mk(ins, "polyline", {points: dProfile2.map(p => p2x(p[0]) + "," + p2y(p[1])).join(" "), fill: "none", stroke: "#fff", "stroke-width": 1.6});
  
  
  const p2yt = [["2", 2], ["1", 1], ["0", 0]];
  for (const t of p2yt) {
    const tx = mk(ins, "text", {x: 267, y: p2y(t[1]) + 5, "font-size": 14, fill: "#fff", "text-anchor": "end"}, t[0]);
    
    
  }
  const p2xt = [["0.0", 0], ["0.5", 0.5], ["1.0", 1.0]];
  for (const t of p2xt) {
    const tx = mk(ins, "text", {x: p2x(t[1]), y: 749, "font-size": 14, fill: "#fff", "text-anchor": "middle"}, t[0]);
    
    
  }
  const u2 = mk(ins, "text", {x: 317, y: 759, "font-size": 12, fill: "#fff", "text-anchor": "middle"}, "μm");
  
  
  const n2 = mk(ins, "text", {x: 0, y: 0, "font-size": 12, fill: "#fff", "text-anchor": "middle", transform: "translate(251,693) rotate(-90)"}, "nm");
  
  
})();
</script>
</body></html>
